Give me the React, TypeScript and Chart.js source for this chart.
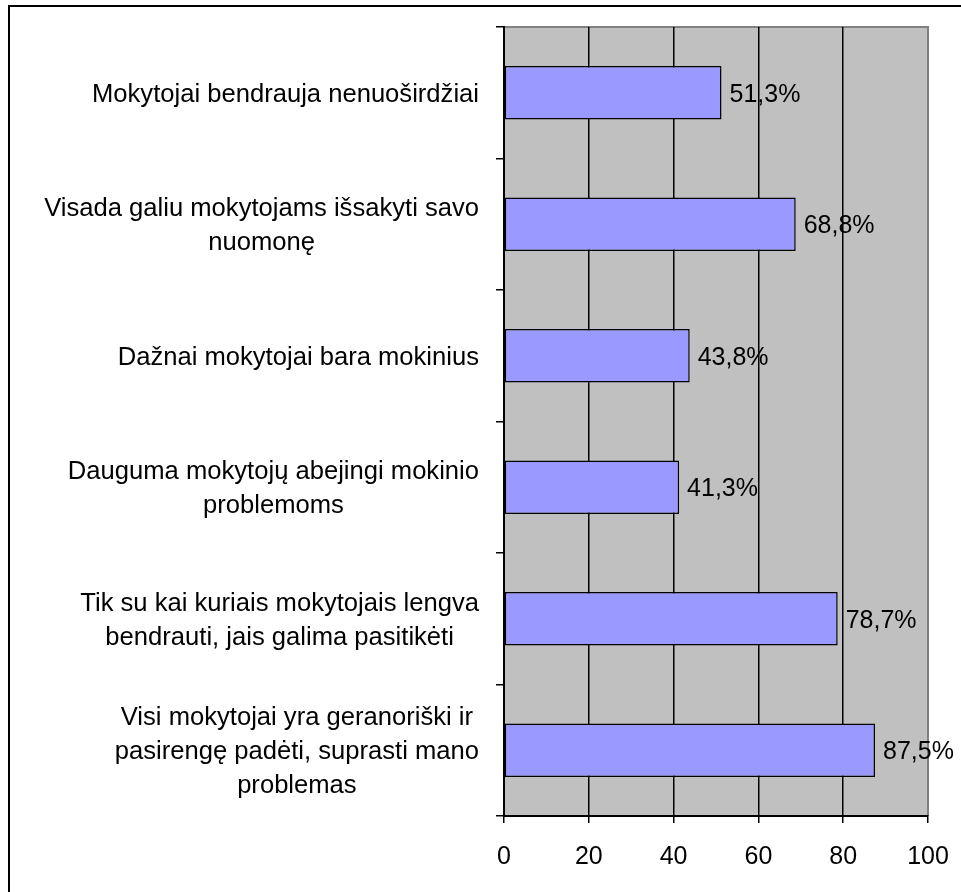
import React, { useEffect, useRef } from "react";
import { Chart, registerables } from "chart.js";

Chart.register(...registerables);

const categories: string[][] = [
  ["Mokytojai bendrauja nenuoširdžiai"],
  ["Visada galiu mokytojams išsakyti savo", "nuomonę"],
  ["Dažnai mokytojai bara mokinius"],
  ["Dauguma mokytojų abejingi mokinio", "problemoms"],
  ["Tik su kai kuriais mokytojais lengva", "bendrauti, jais galima pasitikėti"],
  ["Visi mokytojai yra geranoriški ir", "pasirengę padėti, suprasti mano", "problemas"],
];
const values: number[] = [51.3, 68.8, 43.8, 41.3, 78.7, 87.5];
const xTicks: number[] = [0, 20, 40, 60, 80, 100];

const FONT_FAMILY = '"Liberation Sans", Arial, Helvetica, sans-serif';
const FONT_SIZE = 25;
const CAT_FONT_SIZE = 25.6;
const W = 961;
const H = 892;

export default function App() {
  const ref = useRef<HTMLCanvasElement | null>(null);

  useEffect(() => {
    if (!ref.current) return;

    const decor = {
      id: "decor",
      beforeDraw(chart: any) {
        const { ctx, chartArea: a } = chart;
        ctx.save();
        ctx.fillStyle = "#ffffff";
        ctx.fillRect(0, 0, W, H);
        // outer frame
        ctx.strokeStyle = "#000000";
        ctx.lineWidth = 2;
        ctx.beginPath();
        ctx.moveTo(9, H + 5);
        ctx.lineTo(9, 6);
        ctx.lineTo(W + 5, 6);
        ctx.stroke();
        // plot background
        ctx.fillStyle = "#C0C0C0";
        ctx.fillRect(a.left, a.top, a.right - a.left, a.bottom - a.top);
        ctx.strokeStyle = "#808080";
        ctx.lineWidth = 2;
        ctx.beginPath();
        ctx.moveTo(a.left, a.top);
        ctx.lineTo(a.right, a.top);
        ctx.lineTo(a.right, a.bottom);
        ctx.stroke();
        ctx.restore();
      },
      afterDraw(chart: any) {
        const { ctx } = chart;
        const yScale = chart.scales.y;
        ctx.save();
        ctx.fillStyle = "#000000";
        ctx.textBaseline = "middle";
        ctx.textAlign = "center";
        ctx.font = `${CAT_FONT_SIZE}px ${FONT_FAMILY}`;
        const lineH = 34;
        const rightEdge = chart.chartArea.left - 25;
        categories.forEach((lines, i) => {
          const cy = yScale.getPixelForTick(i) + 2;
          const bw = Math.max(...lines.map((l) => ctx.measureText(l).width));
          const cx = rightEdge - bw / 2;
          lines.forEach((l, j) => {
            ctx.fillText(l, cx, cy + (j - (lines.length - 1) / 2) * lineH);
          });
        });
        // value labels
        ctx.font = `${FONT_SIZE}px ${FONT_FAMILY}`;
        const meta = chart.getDatasetMeta(0);
        ctx.textAlign = "left";
        meta.data.forEach((bar: any, i: number) => {
          const txt = values[i].toFixed(1).replace(".", ",") + "%";
          ctx.fillText(txt, bar.x + 8, bar.y + 2);
        });
        ctx.restore();
      },
    };

    const chart = new Chart(ref.current, {
      type: "bar",
      data: {
        labels: categories,
        datasets: [
          {
            data: values,
            backgroundColor: "#9999FF",
            borderColor: "#000000",
            borderWidth: 1.5,
            borderSkipped: false,
            categoryPercentage: 0.8,
            barPercentage: 0.51,
          },
        ],
      },
      options: {
        indexAxis: "y",
        animation: false,
        responsive: false,
        layout: { padding: { left: 0, top: 27, right: W - 928, bottom: 0 } },
        plugins: {
          legend: { display: false },
          tooltip: { enabled: false },
          title: { display: false },
        },
        scales: {
          x: {
            type: "linear",
            min: 0,
            max: 100,
            afterBuildTicks(scale: any) {
              scale.ticks = xTicks.map((v) => ({ value: v }));
            },
            afterFit(scale: any) {
              scale.height = H - 816;
              scale.paddingLeft = 0;
              scale.paddingRight = 0;
            },
            grid: {
              color: (c: any) => (c.tick && c.tick.value === 100 ? "#808080" : "#000000"),
              lineWidth: 1.5,
              tickColor: "#000000",
              tickLength: 7,
              drawTicks: true,
            },
            border: { display: true, color: "#000000", width: 2 },
            ticks: {
              color: "#000000",
              padding: 19,
              maxRotation: 0,
              autoSkip: false,
              font: { size: FONT_SIZE, family: FONT_FAMILY },
            },
          },
          y: {
            type: "category",
            offset: true,
            afterFit(scale: any) {
              scale.width = 504;
              scale.paddingTop = 0;
              scale.paddingBottom = 0;
            },
            grid: {
              offset: true,
              drawOnChartArea: false,
              drawTicks: true,
              tickLength: 8,
              color: "#000000",
              lineWidth: 1.5,
            },
            border: { display: true, color: "#000000", width: 2 },
            ticks: { display: false },
          },
        },
      },
      plugins: [decor],
    } as any);

    return () => chart.destroy();
  }, []);

  return (
    <div style={{ position: "fixed", left: 0, top: 0, width: W, height: H, background: "#fff" }}>
      <canvas ref={ref} width={W} height={H} style={{ display: "block" }} />
    </div>
  );
}
